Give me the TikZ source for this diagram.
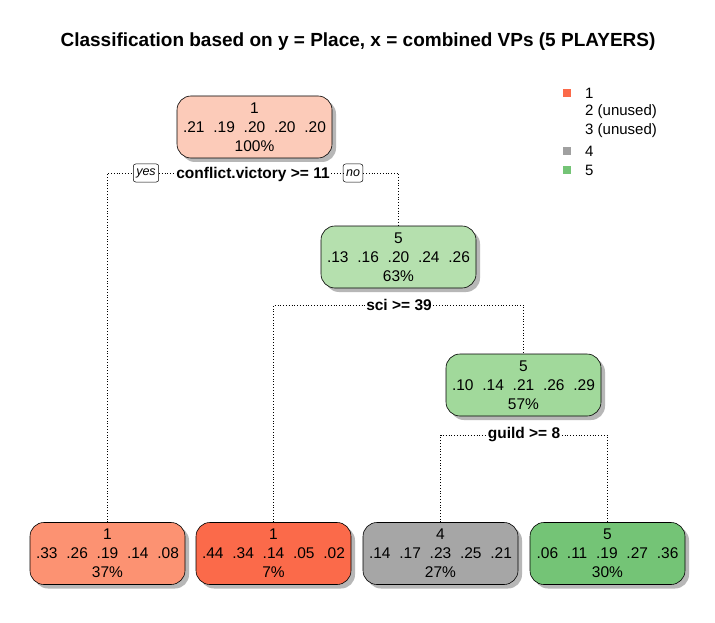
\documentclass[tikz,border=0pt]{standalone}
\usepackage{fontspec}
\setmainfont{Liberation Sans}
\usetikzlibrary{shadows}
\definecolor{cRoot}{RGB}{252,203,185}
\definecolor{cNa}{RGB}{181,224,174}
\definecolor{cNb}{RGB}{161,217,155}
\definecolor{cLa}{RGB}{252,146,114}
\definecolor{cLb}{RGB}{251,106,74}
\definecolor{cLc}{RGB}{166,166,166}
\definecolor{cLd}{RGB}{116,196,118}
\definecolor{cLeg1}{RGB}{251,106,74}
\definecolor{cLeg4}{RGB}{160,160,160}
\definecolor{cLeg5}{RGB}{116,196,118}
\newcommand{\gp}{\hspace{8.8pt}}
\tikzset{
  treenode/.style={draw=black, line width=0.6pt, rounded corners=14pt,
    minimum width=155pt, minimum height=62pt, inner sep=0pt, align=center,
    font=\fontsize{15.5}{19}\selectfont,
    drop shadow={shadow xshift=4pt, shadow yshift=-4pt, fill=black!35, opacity=0.8}},
  splitlabel/.style={fill=white, inner sep=1.5pt, font=\fontsize{15.5}{17}\selectfont\bfseries},
  yesno/.style={draw=black, line width=0.5pt, fill=white, rounded corners=2.5pt, inner xsep=3pt, inner ysep=0pt,
    minimum height=18pt, font=\fontsize{12.5}{13}\selectfont\itshape},
  conn/.style={line width=0.6pt, dash pattern=on 0.8pt off 2pt},
  legtext/.style={anchor=west, inner sep=0pt, font=\fontsize{15}{17}\selectfont}
}
\begin{document}
\begin{tikzpicture}[x=1pt,y=-1pt]
\useasboundingbox (0,0) rectangle (715,623);
\fill[white] (0,0) rectangle (715,623);
\node[font=\fontsize{19}{21}\selectfont\bfseries] (title) at (358,42) {Classification based on y = Place, x = combined VPs (5 PLAYERS)};
% legend
\fill[cLeg1] (563,89) rectangle (571,97);
\fill[cLeg4] (563,147) rectangle (571,155);
\fill[cLeg5] (563,166) rectangle (571,174);
\node[legtext] (l1) at (585,93) {1};
\node[legtext] (l2) at (585,112) {2 (unused)};
\node[legtext] (l3) at (585,131) {3 (unused)};
\node[legtext] (l4) at (585,151) {4};
\node[legtext] (l5) at (585,170) {5};
% nodes
\node[treenode, fill=cRoot] (root) at (254.5,127) {1\\.21\gp.19\gp.20\gp.20\gp.20\\100\%};
\node[treenode, fill=cNa] (n2) at (398.5,257) {5\\.13\gp.16\gp.20\gp.24\gp.26\\63\%};
\node[treenode, fill=cNb] (n3) at (523.5,385) {5\\.10\gp.14\gp.21\gp.26\gp.29\\57\%};
\node[treenode, fill=cLa] (leafA) at (107.5,553.5) {1\\.33\gp.26\gp.19\gp.14\gp.08\\37\%};
\node[treenode, fill=cLb] (leafB) at (273.5,553.5) {1\\.44\gp.34\gp.14\gp.05\gp.02\\7\%};
\node[treenode, fill=cLc] (leafC) at (440.5,553.5) {4\\.14\gp.17\gp.23\gp.25\gp.21\\27\%};
\node[treenode, fill=cLd] (leafD) at (607.5,553.5) {5\\.06\gp.11\gp.19\gp.27\gp.36\\30\%};
% split labels
\node[splitlabel] (s1) at (253,174) {conflict.victory >= 11};
\node[yesno] (yes) at (146,173) {yes};
\node[yesno] (no) at (353,173) {no};
\node[splitlabel] (s2) at (399,305) {sci >= 39};
\node[splitlabel] (s3) at (524,435) {guild >= 8};
% connectors
\draw[conn] (leafA.north) |- (yes.west);
\draw[conn] (yes.east) -- (yes.east -| s1.west);
\draw[conn] (s1.east |- no.west) -- (no.west);
\draw[conn] (no.east) -| (n2.north);
\draw[conn] (leafB.north) |- (s2.west);
\draw[conn] (s2.east) -| (n3.north);
\draw[conn] (leafC.north) |- (s3.west);
\draw[conn] (s3.east) -| (leafD.north);
\end{tikzpicture}
\end{document}
